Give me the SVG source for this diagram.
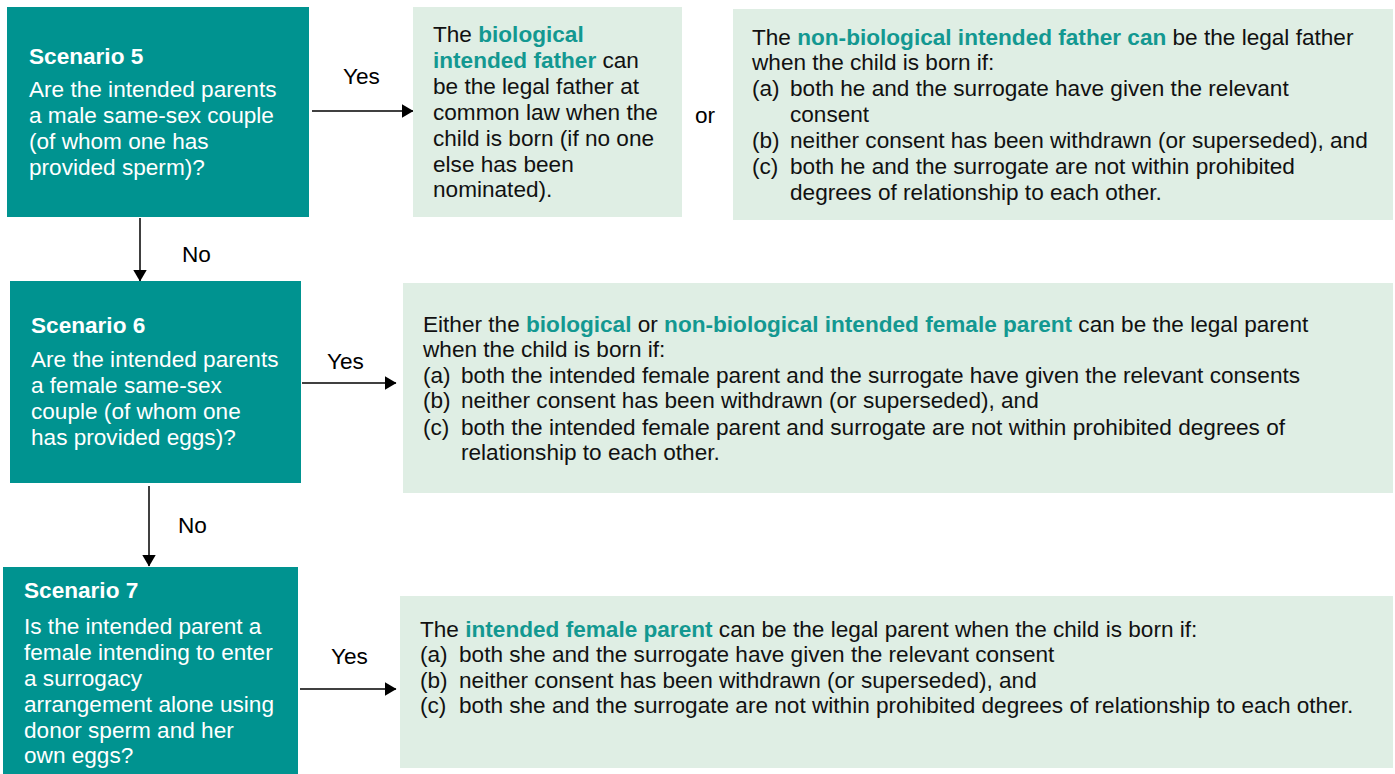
<svg xmlns="http://www.w3.org/2000/svg" width="1395" height="774" viewBox="0 0 1395 774">
<defs>
<marker id="ah" viewBox="0 0 12 14" refX="11.5" refY="7" markerWidth="12" markerHeight="14" markerUnits="userSpaceOnUse" orient="auto">
<path d="M0,0 L12,7 L0,14 Z" fill="#000"/>
</marker>
<style>
text{font-family:"Liberation Sans",Arial,sans-serif;font-size:22.6px;fill:#111}
.q{fill:#009390}
.r{fill:#dfeee4}
.w{fill:#fff}
.t{font-weight:bold}
.hl{font-weight:bold;fill:#139891}
.lab{fill:#000}
.c{stroke:#000;stroke-width:1.5;fill:none}
</style>
</defs>
<rect width="1395" height="774" fill="#fff"/>

<g id="connectors">
<line class="c" x1="312" y1="111" x2="413" y2="111" marker-end="url(#ah)"/>
<text class="lab" x="343" y="84">Yes</text>
<line class="c" x1="140" y1="218" x2="140" y2="281" marker-end="url(#ah)"/>
<text class="lab" x="182" y="262">No</text>
<line class="c" x1="302" y1="383" x2="396" y2="383" marker-end="url(#ah)"/>
<text class="lab" x="327" y="369">Yes</text>
<line class="c" x1="149" y1="486" x2="149" y2="566" marker-end="url(#ah)"/>
<text class="lab" x="178" y="533">No</text>
<line class="c" x1="300" y1="689" x2="396" y2="689" marker-end="url(#ah)"/>
<text class="lab" x="331" y="664">Yes</text>
<text class="lab" x="695" y="123">or</text>
</g>

<g id="scenario5">
<rect class="q" x="7" y="7" width="302" height="210"/>
<text class="w t" x="29" y="64">Scenario 5</text>
<text class="w" x="29" y="97">Are the intended parents</text>
<text class="w" x="29" y="123">a male same-sex couple</text>
<text class="w" x="29" y="149">(of whom one has</text>
<text class="w" x="29" y="175">provided sperm)?</text>
</g>

<g id="result5a">
<rect class="r" x="413" y="7" width="269" height="210"/>
<text x="433" y="42">The <tspan class="hl">biological</tspan></text>
<text x="433" y="68"><tspan class="hl">intended father</tspan> can</text>
<text x="433" y="94">be the legal father at</text>
<text x="433" y="120">common law when the</text>
<text x="433" y="146">child is born (if no one</text>
<text x="433" y="172">else has been</text>
<text x="433" y="197">nominated).</text>
</g>

<g id="result5b">
<rect class="r" x="733" y="9" width="660" height="211"/>
<text x="752" y="45">The <tspan class="hl">non-biological intended father can</tspan> be the legal father</text>
<text x="752" y="70">when the child is born if:</text>
<text x="752" y="96">(a)</text><text x="790" y="96">both he and the surrogate have given the relevant</text>
<text x="790" y="122">consent</text>
<text x="752" y="148">(b)</text><text x="790" y="148">neither consent has been withdrawn (or superseded), and</text>
<text x="752" y="174">(c)</text><text x="790" y="174">both he and the surrogate are not within prohibited</text>
<text x="790" y="200">degrees of relationship to each other.</text>
</g>

<g id="scenario6">
<rect class="q" x="10" y="281" width="291" height="202"/>
<text class="w t" x="31" y="333">Scenario 6</text>
<text class="w" x="31" y="367">Are the intended parents</text>
<text class="w" x="31" y="393">a female same-sex</text>
<text class="w" x="31" y="419">couple (of whom one</text>
<text class="w" x="31" y="445">has provided eggs)?</text>
</g>

<g id="result6">
<rect class="r" x="403" y="283" width="990" height="210"/>
<text x="423" y="332">Either the <tspan class="hl">biological</tspan> or <tspan class="hl">non-biological intended female parent</tspan> can be the legal parent</text>
<text x="423" y="357">when the child is born if:</text>
<text x="423" y="383">(a)</text><text x="461" y="383">both the intended female parent and the surrogate have given the relevant consents</text>
<text x="423" y="408">(b)</text><text x="461" y="408">neither consent has been withdrawn (or superseded), and</text>
<text x="423" y="435">(c)</text><text x="461" y="435">both the intended female parent and surrogate are not within prohibited degrees of</text>
<text x="461" y="460">relationship to each other.</text>
</g>

<g id="scenario7">
<rect class="q" x="3" y="567" width="295" height="207"/>
<text class="w t" x="24" y="598">Scenario 7</text>
<text class="w" x="24" y="634">Is the intended parent a</text>
<text class="w" x="24" y="660">female intending to enter</text>
<text class="w" x="24" y="686">a surrogacy</text>
<text class="w" x="24" y="712">arrangement alone using</text>
<text class="w" x="24" y="738">donor sperm and her</text>
<text class="w" x="24" y="763">own eggs?</text>
</g>

<g id="result7">
<rect class="r" x="400" y="596" width="993" height="172"/>
<text x="420" y="637">The <tspan class="hl">intended female parent</tspan> can be the legal parent when the child is born if:</text>
<text x="420" y="662">(a)</text><text x="459" y="662">both she and the surrogate have given the relevant consent</text>
<text x="420" y="688">(b)</text><text x="459" y="688">neither consent has been withdrawn (or superseded), and</text>
<text x="420" y="713">(c)</text><text x="459" y="713">both she and the surrogate are not within prohibited degrees of relationship to each other.</text>
</g>
</svg>
